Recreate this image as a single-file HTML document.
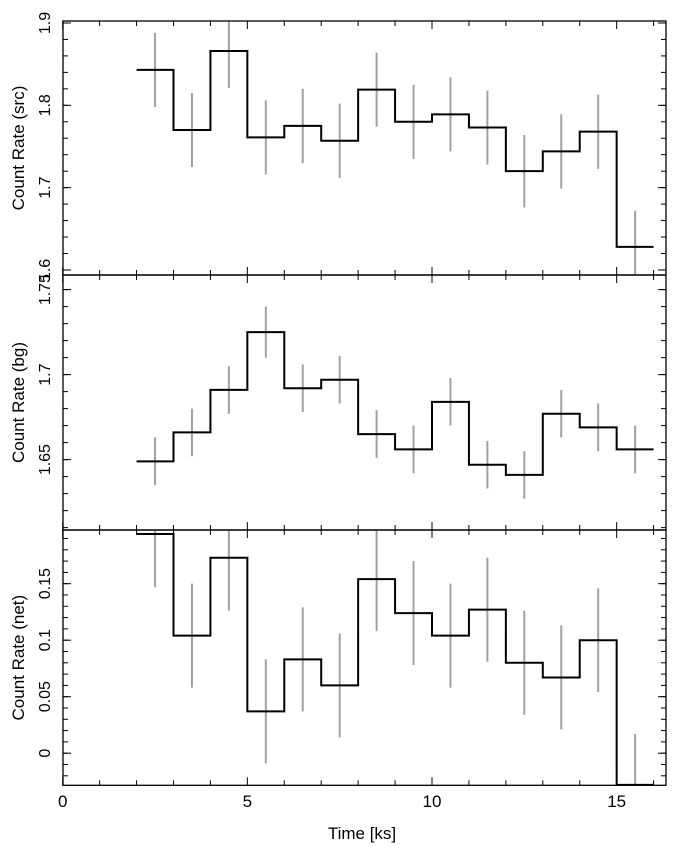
<!DOCTYPE html>
<html><head><meta charset="utf-8"><style>
html,body{margin:0;padding:0;background:#fff}
svg{display:block;font-family:"Liberation Sans",Arial,sans-serif}
</style></head><body>
<svg id="chart" width="676" height="856" viewBox="0 0 676 856" xmlns="http://www.w3.org/2000/svg"></svg>
<script>
const binStarts = [2,3,4,5,6,7,8,9,10,11,12,13,14,15];
const srcValues = [1.843,1.770,1.866,1.761,1.775,1.757,1.819,1.780,1.789,1.773,1.720,1.744,1.768,1.628];
const srcErrors = [0.045,0.045,0.045,0.045,0.045,0.045,0.045,0.045,0.045,0.045,0.044,0.045,0.045,0.044];
const bgValues = [1.649,1.666,1.691,1.725,1.692,1.697,1.665,1.656,1.684,1.647,1.641,1.677,1.669,1.656];
const bgErrors = [0.014,0.014,0.014,0.015,0.014,0.014,0.014,0.014,0.014,0.014,0.014,0.014,0.014,0.014];
const netValues = [0.194,0.104,0.173,0.037,0.083,0.060,0.154,0.124,0.104,0.127,0.080,0.067,0.100,-0.028];
const netErrors = [0.047,0.046,0.047,0.046,0.046,0.046,0.046,0.046,0.046,0.046,0.046,0.046,0.046,0.045];
const xTickLabels = ["0","5","10","15"];
const srcTickLabels = ["1.6","1.7","1.8","1.9"];
const bgTickLabels = ["1.65","1.7","1.75"];
const netTickLabels = ["0","0.05","0.1","0.15"];

const NS="http://www.w3.org/2000/svg";
const svg=document.getElementById('chart');
const X0=62.7, PX=36.93, XL=63, XR=666;
const xs=v=>X0+v*PX;
function el(tag,attrs,parent){const e=document.createElementNS(NS,tag);for(const k in attrs)e.setAttribute(k,attrs[k]);(parent||svg).appendChild(e);return e;}

function panel(name,top,bottom,vTop,vBot,vals,errs,labels,minorStep,title,lastBottom){
  const g=el('g',{});
  
  
  const ys=v=>top+(vTop-v)/(vTop-vBot)*(bottom-top);
  const cid='clip-'+name;
  const cp=el('clipPath',{id:cid},g);
  el('rect',{x:XL,y:top,width:XR-XL,height:bottom-top},cp);
  // error bars
  vals.forEach((v,i)=>{
    const xc=xs(binStarts[i]+0.5);
    const l=el('line',{x1:xc,x2:xc,y1:ys(v+errs[i]),y2:ys(v-errs[i]),stroke:'#a0a0a0','stroke-width':2,'clip-path':'url(#'+cid+')'},g);
    
    
  });
  // step line
  let d='';
  vals.forEach((v,i)=>{const x1=xs(binStarts[i]),x2=xs(binStarts[i]+1),y=ys(v);d+=(i?'L':'M')+x1+' '+y+'L'+x2+' '+y;});
  const p=el('path',{d:d,fill:'none',stroke:'#000','stroke-width':2,'clip-path':'url(#'+cid+')'},g);
  
  
  // frame
  const fr=el('rect',{x:XL,y:top,width:XR-XL,height:bottom-top,fill:'none',stroke:'#000','stroke-width':1.3},g);
  
  
  // x ticks
  for(let t=0;t<=16;t++){
    const x=xs(t),L=(t%5===0)?8:5;
    el('line',{x1:x,x2:x,y1:bottom,y2:bottom-L,stroke:'#000','stroke-width':1},g);
    el('line',{x1:x,x2:x,y1:top,y2:top+L,stroke:'#000','stroke-width':1},g);
  }
  // y minor ticks
  const start=Math.ceil(vBot/minorStep-1e-6);
  for(let k=start;k*minorStep<=vTop+1e-9;k++){
    const y=ys(k*minorStep);
    el('line',{x1:XL,x2:XL+5,y1:y,y2:y,stroke:'#000','stroke-width':1},g);
    el('line',{x1:XR,x2:XR-5,y1:y,y2:y,stroke:'#000','stroke-width':1},g);
  }
  labels.forEach(s=>{
    const y=ys(parseFloat(s));
    el('line',{x1:XL,x2:XL+8,y1:y,y2:y,stroke:'#000','stroke-width':1},g);
    el('line',{x1:XR,x2:XR-8,y1:y,y2:y,stroke:'#000','stroke-width':1},g);
    const t=el('text',{x:0,y:0,transform:'translate(50,'+y+') rotate(-90)','text-anchor':'middle','font-size':16,fill:'#000'},g);
    t.textContent=s;
    
    
  });
  const tt=el('text',{x:0,y:0,transform:'translate(24,'+((top+bottom)/2)+') rotate(-90)','text-anchor':'middle','font-size':17,fill:'#000'},g);
  tt.textContent=title;
  
  
}
panel('src',21,275,1.9024,1.5939,srcValues,srcErrors,srcTickLabels,0.02,'Count Rate (src)');
panel('bg',275,530,1.7586,1.6086,bgValues,bgErrors,bgTickLabels,0.01,'Count Rate (bg)');
panel('net',530,785.3,0.1975,-0.0284,netValues,netErrors,netTickLabels,0.01,'Count Rate (net)');
xTickLabels.forEach(s=>{
  const t=el('text',{x:xs(parseFloat(s)),y:807,'text-anchor':'middle','font-size':17,fill:'#000'});
  t.textContent=s;
  
  
});
const xt=el('text',{x:362,y:839,'text-anchor':'middle','font-size':17,fill:'#000'});
xt.textContent='Time [ks]';


</script>
</body></html>
